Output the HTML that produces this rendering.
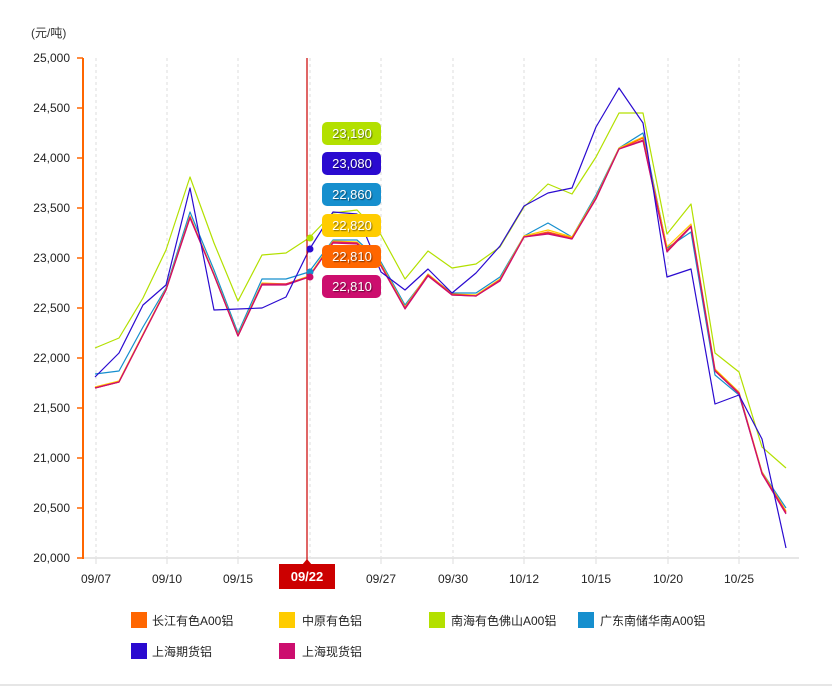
<!DOCTYPE html>
<html><head><meta charset="utf-8"><style>
body{margin:0;background:#fff;}
svg{display:block;font-family:"Liberation Sans","Noto Sans CJK SC",sans-serif;}
</style></head><body>
<svg width="832" height="686" viewBox="0 0 832 686" xmlns="http://www.w3.org/2000/svg">
<rect width="832" height="686" fill="#fff"/>
<line x1="0" y1="685" x2="832" y2="685" stroke="#e6e6e6" stroke-width="2"/>
<text x="31" y="37" font-size="12" fill="#333">(元/吨)</text>
<g stroke="#ddd" stroke-dasharray="3,3" stroke-width="1">
<line x1="96" y1="58" x2="96" y2="558"/><line x1="167" y1="58" x2="167" y2="558"/><line x1="238" y1="58" x2="238" y2="558"/>
<line x1="310" y1="58" x2="310" y2="558"/><line x1="381" y1="58" x2="381" y2="558"/><line x1="453" y1="58" x2="453" y2="558"/>
<line x1="524" y1="58" x2="524" y2="558"/><line x1="596" y1="58" x2="596" y2="558"/><line x1="668" y1="58" x2="668" y2="558"/>
<line x1="739" y1="58" x2="739" y2="558"/>
</g>
<line x1="83" y1="558" x2="799" y2="558" stroke="#e6e6e6" stroke-width="2"/>
<g stroke="#ddd"><line x1="96" y1="558" x2="96" y2="564"/><line x1="167" y1="558" x2="167" y2="564"/><line x1="238" y1="558" x2="238" y2="564"/><line x1="381" y1="558" x2="381" y2="564"/><line x1="453" y1="558" x2="453" y2="564"/><line x1="524" y1="558" x2="524" y2="564"/><line x1="596" y1="558" x2="596" y2="564"/><line x1="668" y1="558" x2="668" y2="564"/><line x1="739" y1="558" x2="739" y2="564"/></g>
<line x1="83" y1="58" x2="83" y2="559" stroke="#ff6600" stroke-width="2"/>
<g stroke="#ff6600" stroke-width="1.5">
<line x1="77" y1="58" x2="83" y2="58"/><line x1="77" y1="108" x2="83" y2="108"/><line x1="77" y1="158" x2="83" y2="158"/><line x1="77" y1="208" x2="83" y2="208"/><line x1="77" y1="258" x2="83" y2="258"/><line x1="77" y1="308" x2="83" y2="308"/><line x1="77" y1="358" x2="83" y2="358"/><line x1="77" y1="408" x2="83" y2="408"/><line x1="77" y1="458" x2="83" y2="458"/><line x1="77" y1="508" x2="83" y2="508"/><line x1="77" y1="558" x2="83" y2="558"/>
</g>
<g font-size="12" fill="#222" text-anchor="end">
<text x="70" y="62">25,000</text><text x="70" y="112">24,500</text><text x="70" y="162">24,000</text><text x="70" y="212">23,500</text><text x="70" y="262">23,000</text><text x="70" y="312">22,500</text><text x="70" y="362">22,000</text><text x="70" y="412">21,500</text><text x="70" y="462">21,000</text><text x="70" y="512">20,500</text><text x="70" y="562">20,000</text>
</g>
<g font-size="12" fill="#222" text-anchor="middle">
<text x="96" y="583">09/07</text><text x="167" y="583">09/10</text><text x="238" y="583">09/15</text><text x="381" y="583">09/27</text><text x="453" y="583">09/30</text><text x="524" y="583">10/12</text><text x="596" y="583">10/15</text><text x="668" y="583">10/20</text><text x="739" y="583">10/25</text>
</g>
<g fill="none" stroke-width="1.2" stroke-linejoin="round">
<polyline stroke="#b3e000" points="95,348 119,338 143,298 166,250 190,177 214,243 238,301 262,255 286,253 309,238 333,213 357,210 381,235 405,279 428,251 452,268 476,264 500,247 524,207 548,184 572,194 596,157 619,113 643,113 667,234 691,204 715,353 739,372 762,447 786,468"/>
<polyline stroke="#168fce" points="95,374 119,371 143,327 166,288 190,212 214,270 238,333 262,279 286,279 309,272 333,240 357,240 381,262 405,305 428,275 452,293 476,293 500,277 524,236 548,223 572,237 596,195 619,148 643,133 667,248 691,232 715,375 739,395 762,472 786,508"/>
<polyline stroke="#ffcc00" points="95,387 119,381 143,334 166,289 190,216 214,274 238,335 262,283 286,284 309,276 333,241 357,242 381,264 405,307 428,274 452,294 476,295 500,279 524,236 548,230 572,237 596,197 619,148 643,137 667,247 691,224 715,369 739,392 762,472 786,511"/>
<polyline stroke="#ff6600" points="95,388 119,382 143,335 166,290 190,217 214,275 238,336 262,284 286,284 309,277 333,242 357,243 381,265 405,308 428,275 452,294 476,296 500,280 524,237 548,232 572,238 596,198 619,149 643,138 667,250 691,226 715,370 739,393 762,473 786,512"/>
<polyline stroke="#e0205a" points="95,388 119,382 143,335 166,290 190,217 214,275 238,336 262,284 286,284 309,277 333,242 357,243 381,266 405,308 428,275 452,295 476,296 500,280 524,237 548,233 572,239 596,198 619,149 643,140 667,251 691,226 715,371 739,393 762,473 786,513"/>
<polyline stroke="#cc0e6e" points="95,388 119,382 143,335 166,290 190,218 214,275 238,336 262,285 286,285 309,277 333,243 357,244 381,266 405,309 428,276 452,295 476,296 500,281 524,237 548,234 572,239 596,199 619,149 643,141 667,252 691,227 715,371 739,394 762,474 786,514"/>
<polyline stroke="#2a0ad0" points="95,377 119,353 143,305 166,285 190,188 214,310 238,309 262,308 286,297 309,250 333,212 357,214 381,272 405,290 428,269 452,293 476,273 500,246 524,206 548,193 572,188 596,127 619,88 643,123 667,277 691,269 715,404 739,395 762,439 786,548"/>
</g>
<line x1="307" y1="58" x2="307" y2="562" stroke="#cc0000" stroke-width="1.2"/>
<circle cx="310" cy="238" r="3.5" fill="#b3e000"/>
<circle cx="310" cy="249" r="3.5" fill="#2a0ad0"/>
<circle cx="310" cy="272" r="3.5" fill="#168fce"/>
<circle cx="310" cy="277" r="3.5" fill="#cc0e6e"/>
<polygon points="302,565 307,559 312,565" fill="#cc0000"/>
<rect x="279" y="564" width="56" height="25" fill="#cc0000"/>
<text x="307" y="581" font-size="13" fill="#fff" text-anchor="middle" font-weight="bold">09/22</text>
<g font-size="13" text-anchor="middle" fill="#fff" style="text-shadow:1px 1px 1px rgba(0,0,0,.5)">
<rect x="322" y="122" width="59" height="23" rx="5" fill="#b3e000"/><text x="352" y="138">23,190</text>
<rect x="322" y="152" width="59" height="23" rx="5" fill="#2a0ad0"/><text x="352" y="168">23,080</text>
<rect x="322" y="183" width="59" height="23" rx="5" fill="#168fce"/><text x="352" y="199">22,860</text>
<rect x="322" y="214" width="59" height="23" rx="5" fill="#ffcc00"/><text x="352" y="230">22,820</text>
<rect x="322" y="245" width="59" height="23" rx="5" fill="#ff6600"/><text x="352" y="261">22,810</text>
<rect x="322" y="275" width="59" height="23" rx="5" fill="#cc0e6e"/><text x="352" y="291">22,810</text>
</g>
<g font-size="12" fill="#222">
<rect x="131" y="612" width="16" height="16" fill="#ff6600"/><text x="152" y="625">长江有色A00铝</text>
<rect x="279" y="612" width="16" height="16" fill="#ffcc00"/><text x="302" y="625">中原有色铝</text>
<rect x="429" y="612" width="16" height="16" fill="#b3e000"/><text x="451" y="625">南海有色佛山A00铝</text>
<rect x="578" y="612" width="16" height="16" fill="#168fce"/><text x="600" y="625">广东南储华南A00铝</text>
<rect x="131" y="643" width="16" height="16" fill="#2a0ad0"/><text x="152" y="656">上海期货铝</text>
<rect x="279" y="643" width="16" height="16" fill="#cc0e6e"/><text x="302" y="656">上海现货铝</text>
</g>
</svg>
</body></html>
